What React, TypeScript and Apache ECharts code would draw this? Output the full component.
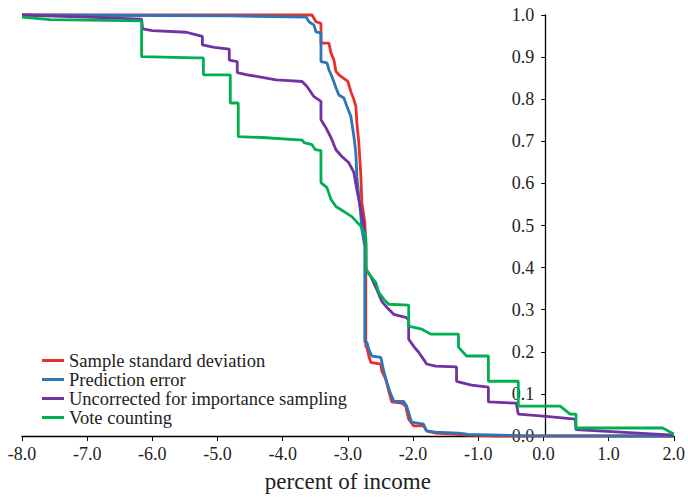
import React, { useEffect, useRef } from "react";
import * as echarts from "echarts";

const seriesNames = [
  "Sample standard deviation",
  "Prediction error",
  "Uncorrected for importance sampling",
  "Vote counting",
];
const seriesColors = ["#e8302a", "#2e74b8", "#7232a2", "#00b050"];

const xTicks = [-8, -7, -6, -5, -4, -3, -2, -1, 0, 1, 2];
const yTicks = [0, 0.1, 0.2, 0.3, 0.4, 0.5, 0.6, 0.7, 0.8, 0.9, 1.0];

const redX = [-8, -3.55, -3.49, -3.413, -3.413, -3.29, -3.26, -3.214, -3.183, -3.138, -3.031, -3.0, -2.954, -2.908, -2.878, -2.862, -2.832, -2.8, -2.786, -2.74, -2.725, -2.725, -2.709, -2.679, -2.648, -2.495, -2.48, -2.419, -2.373, -2.327, -2.174, -2.113, -2.067, -1.991, -1.838, -1.792, -1.654, -1.15, -0.69, 2.0];
const redY = [1.0, 1.0, 0.984, 0.98, 0.933, 0.933, 0.91, 0.893, 0.866, 0.858, 0.846, 0.842, 0.818, 0.799, 0.783, 0.744, 0.697, 0.616, 0.554, 0.507, 0.45, 0.213, 0.211, 0.19, 0.175, 0.171, 0.154, 0.135, 0.107, 0.081, 0.078, 0.071, 0.04, 0.024, 0.024, 0.012, 0.007, 0.002, 0.0, 0.0];

const blueX = [-8, -4.8, -3.642, -3.596, -3.52, -3.489, -3.413, -3.413, -3.321, -3.291, -3.245, -3.183, -3.138, -3.061, -3.015, -2.954, -2.908, -2.878, -2.862, -2.832, -2.8, -2.786, -2.74, -2.74, -2.709, -2.679, -2.633, -2.495, -2.45, -2.404, -2.343, -2.297, -2.144, -2.098, -2.037, -2.021, -1.838, -1.792, -1.654, -1.303, -1.15, -0.385, 2.0];
const blueY = [1.0, 0.998, 0.995, 0.984, 0.976, 0.96, 0.957, 0.889, 0.886, 0.87, 0.854, 0.827, 0.81, 0.803, 0.783, 0.759, 0.712, 0.673, 0.616, 0.569, 0.521, 0.491, 0.45, 0.223, 0.223, 0.206, 0.19, 0.187, 0.154, 0.128, 0.1, 0.083, 0.082, 0.071, 0.04, 0.033, 0.028, 0.012, 0.009, 0.007, 0.004, 0.001, 0.0];

const purpleX = [-8, -7.0, -6.165, -6.15, -6.0, -5.477, -5.324, -5.232, -5.232, -5.049, -4.82, -4.82, -4.697, -4.697, -4.544, -4.315, -4.101, -3.902, -3.703, -3.627, -3.52, -3.413, -3.413, -3.336, -3.26, -3.183, -3.092, -2.985, -2.908, -2.862, -2.8, -2.755, -2.725, -2.72, -2.648, -2.557, -2.48, -2.404, -2.297, -2.113, -2.067, -2.067, -1.991, -1.914, -1.838, -1.792, -1.654, -1.333, -1.333, -1.104, -0.844, -0.844, -0.416, -0.385, 0.0, 0.49, 0.5, 2.0];
const purpleY = [1.0, 0.995, 0.99, 0.967, 0.963, 0.959, 0.953, 0.949, 0.929, 0.923, 0.919, 0.893, 0.889, 0.863, 0.858, 0.852, 0.846, 0.844, 0.842, 0.83, 0.806, 0.795, 0.751, 0.732, 0.709, 0.68, 0.664, 0.649, 0.626, 0.585, 0.538, 0.498, 0.467, 0.396, 0.379, 0.348, 0.32, 0.306, 0.289, 0.282, 0.276, 0.23, 0.213, 0.199, 0.182, 0.171, 0.166, 0.164, 0.13, 0.121, 0.116, 0.081, 0.078, 0.052, 0.047, 0.04, 0.015, 0.002];

const greenX = [-8, -7.57, -6.165, -6.165, -5.324, -5.217, -5.217, -4.804, -4.804, -4.682, -4.682, -4.315, -3.7, -3.673, -3.55, -3.5, -3.413, -3.413, -3.321, -3.26, -3.183, -2.939, -2.8, -2.725, -2.725, -2.648, -2.572, -2.526, -2.45, -2.373, -2.067, -2.067, -1.869, -1.731, -1.303, -1.303, -1.18, -0.844, -0.844, -0.385, -0.385, 0.257, 0.41, 0.5, 0.5, 1.83, 2.0];
const greenY = [0.995, 0.989, 0.986, 0.901, 0.898, 0.898, 0.858, 0.858, 0.791, 0.791, 0.711, 0.709, 0.703, 0.697, 0.692, 0.68, 0.678, 0.602, 0.59, 0.562, 0.545, 0.521, 0.498, 0.474, 0.396, 0.379, 0.365, 0.341, 0.325, 0.313, 0.311, 0.261, 0.254, 0.242, 0.242, 0.211, 0.19, 0.19, 0.13, 0.13, 0.071, 0.071, 0.052, 0.052, 0.019, 0.019, 0.005];

const allX = [redX, blueX, purpleX, greenX];
const allY = [redY, blueY, purpleY, greenY];

const FONT = "Liberation Serif";
const GRID_LEFT = 22;
const GRID_RIGHT = 12;
const CHART_W = 688;

export default function App() {
  const ref = useRef<HTMLDivElement>(null);
  useEffect(() => {
    if (!ref.current) return;
    const chart = echarts.init(ref.current, undefined, { renderer: "svg" });
    const xMin = xTicks[0];
    const xMax = xTicks[xTicks.length - 1];
    const plotW = CHART_W - GRID_LEFT - GRID_RIGHT;
    // place the y axis at x = 0 by shifting it from the left edge of the grid
    const yAxisShift = ((0 - xMin) / (xMax - xMin)) * plotW;
    const series = seriesNames.map((name, i) => ({
      name,
      type: "line",
      data: allX[i].map((x, j) => [x, allY[i][j]]),
      showSymbol: false,
      symbol: "none",
      clip: false,
      lineStyle: { color: seriesColors[i], width: 2.8 },
      itemStyle: { color: seriesColors[i] },
    }));
    chart.setOption({
      animation: false,
      backgroundColor: "#ffffff",
      textStyle: { fontFamily: FONT },
      grid: { left: GRID_LEFT, right: GRID_RIGHT, top: 15, bottom: 61, containLabel: false },
      legend: {
        data: seriesNames,
        orient: "vertical",
        left: 42,
        top: 351,
        padding: 0,
        itemGap: 0,
        itemWidth: 22,
        itemHeight: 3,
        icon: "rect",
        textStyle: { fontFamily: FONT, fontSize: 18.5, color: "#222", lineHeight: 18 },
      },
      xAxis: {
        type: "value",
        min: xMin,
        max: xMax,
        interval: 1,
        name: "percent of income",
        nameLocation: "middle",
        nameGap: 34,
        nameTextStyle: { fontFamily: FONT, fontSize: 23, color: "#222" },
        axisLine: { onZero: false, lineStyle: { color: "#000", width: 1.3 } },
        axisTick: { show: true, length: 5, lineStyle: { color: "#000", width: 1 } },
        axisLabel: {
          fontFamily: FONT,
          fontSize: 18,
          color: "#222",
          margin: 9,
          formatter: (v: number) => v.toFixed(1),
        },
        splitLine: { show: false },
      },
      yAxis: {
        type: "value",
        position: "left",
        offset: -yAxisShift,
        min: yTicks[0],
        max: yTicks[yTicks.length - 1],
        interval: 0.1,
        axisLine: { show: true, onZero: false, lineStyle: { color: "#000", width: 1.3 } },
        axisTick: { show: true, length: 4, lineStyle: { color: "#000", width: 1 } },
        axisLabel: {
          fontFamily: FONT,
          fontSize: 18,
          color: "#222",
          margin: 11,
          formatter: (v: number) => v.toFixed(1),
        },
        splitLine: { show: false },
      },
      series,
    });
    return () => chart.dispose();
  }, []);
  return <div ref={ref} style={{ width: 688, height: 498, position: "absolute", left: 0, top: 0 }} />;
}
